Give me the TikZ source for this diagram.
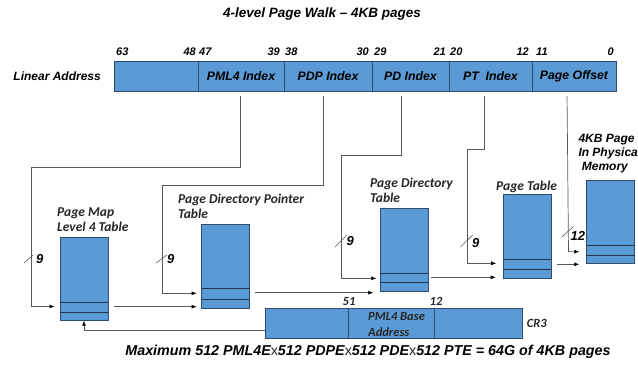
\documentclass[tikz,border=0pt]{standalone}
\usepackage{fontspec}
\setmainfont{Liberation Sans}
\newfontfamily\calfont{Carlito}
\usetikzlibrary{arrows.meta}
\definecolor{boxblue}{HTML}{5B9BD5}
\definecolor{boxedge}{HTML}{2F4B6E}
\definecolor{entryline}{HTML}{1F3550}
\definecolor{wiregray}{HTML}{595959}
\definecolor{labeltext}{HTML}{262626}

\begin{document}
\begin{tikzpicture}[x=1pt,y=-1pt,
  field/.style={draw=boxedge, fill=boxblue, line width=0.8pt, minimum height=30pt,
    anchor=north west, inner sep=0pt, outer sep=0pt,
    font=\fontsize{12.3}{14}\selectfont\bfseries\itshape},
  tbl/.style={draw=boxedge, fill=boxblue, line width=0.8pt, anchor=north west,
    inner sep=0pt, outer sep=0pt},
  entry/.style={draw=entryline, line width=0.8pt},
  wire/.style={draw=wiregray, line width=0.7pt},
  ptr/.style={wire, -{Latex[length=5pt,width=4pt,color=black]}},
  slash/.style={draw=wiregray, line width=0.6pt},
  bitno/.style={inner sep=0pt, font=\fontsize{11}{13}\selectfont\bfseries\itshape},
  count/.style={inner sep=0pt, anchor=west, font=\fontsize{13}{15}\selectfont\bfseries\itshape},
  arial/.style={inner sep=0pt, font=\fontsize{12}{14}\selectfont\bfseries\itshape},
  tname/.style={inner sep=0pt, anchor=west, align=left, text=labeltext,
    font=\fontsize{13.5}{15}\selectfont\calfont\bfseries\itshape},
  crname/.style={inner sep=0pt, text=labeltext,
    font=\fontsize{12.5}{15.5}\selectfont\calfont\bfseries\itshape},
  bigtext/.style={inner sep=0pt, font=\fontsize{14}{16}\selectfont\bfseries\itshape}
]
\useasboundingbox (0,0) rectangle (638,365);

% title
\node[bigtext, font=\fontsize{13.5}{16}\selectfont\bfseries\itshape] (title) at (322,14) {4-level Page Walk -- 4KB pages};

% linear address and its fields
\node[arial, anchor=east] (la) at (101,76) {Linear Address};
\node[field, minimum width=84pt] (sign) at (114,61) {};
\node[field, minimum width=86pt] (pml4) at (198,61) {PML4 Index};
\node[field, minimum width=88pt] (pdp) at (284,61) {PDP Index};
\node[field, minimum width=77pt] (pd) at (372,61) {PD Index};
\node[field, minimum width=83pt] (pt) at (449,61) {PT\ \ Index};
\node[field, minimum width=84pt] (off) at (532,61) {Page Offset};

% bit positions
\node[bitno, anchor=west] (b63) at (116,52) {63};
\node[bitno, anchor=east] (b48) at (196,52) {48};
\node[bitno, anchor=west] (b47) at (199,52) {47};
\node[bitno, anchor=east] (b39) at (280,52) {39};
\node[bitno, anchor=west] (b38) at (285,52) {38};
\node[bitno, anchor=east] (b30) at (369,52) {30};
\node[bitno, anchor=west] (b29) at (374,52) {29};
\node[bitno, anchor=east] (b21) at (446,52) {21};
\node[bitno, anchor=west] (b20) at (450,52) {20};
\node[bitno, anchor=east] (b12) at (529,52) {12};
\node[bitno, anchor=west] (b11) at (536,52) {11};
\node[bitno, anchor=east] (b0) at (614,52) {0};

% tables
\node[tbl, minimum width=48pt, minimum height=83.4pt] (l4) at (60,237.3) {};
\node[tbl, minimum width=47.6pt, minimum height=84pt] (pdpt) at (201.7,224.3) {};
\node[tbl, minimum width=47.7pt, minimum height=83pt] (pdt) at (380.3,208.3) {};
\node[tbl, minimum width=47.3pt, minimum height=83.6pt] (ptt) at (503.7,194.7) {};
\node[tbl, minimum width=47.7pt, minimum height=83.4pt] (page) at (586.3,180.3) {};

% selected entries
\draw[entry] (l4.west |- 0,302.3) -- (l4.east |- 0,302.3);
\draw[entry] (l4.west |- 0,312) -- (l4.east |- 0,312);
\draw[entry] (pdpt.west |- 0,288.5) -- (pdpt.east |- 0,288.5);
\draw[entry] (pdpt.west |- 0,299.2) -- (pdpt.east |- 0,299.2);
\draw[entry] (pdt.west |- 0,273) -- (pdt.east |- 0,273);
\draw[entry] (pdt.west |- 0,282) -- (pdt.east |- 0,282);
\draw[entry] (ptt.west |- 0,259) -- (ptt.east |- 0,259);
\draw[entry] (ptt.west |- 0,269.3) -- (ptt.east |- 0,269.3);
\draw[entry] (page.west |- 0,245.3) -- (page.east |- 0,245.3);
\draw[entry] (page.west |- 0,255) -- (page.east |- 0,255);

% table names
\node[tname] (l4name) at (57,220) {Page Map\\Level 4 Table};
\node[tname] (pdptname) at (178,206.5) {Page Directory Pointer\\Table};
\node[tname] (pdtname) at (370,190.5) {Page Directory\\Table};
\node[tname] (pttname) at (496,186.7) {Page Table};
\node[arial, anchor=west] (pg1) at (578.3,139.3) {4KB Page};
\node[arial, anchor=west] (pg2) at (578.3,153.3) {In Physical};
\node[arial, anchor=west] (pg3) at (581.7,167.7) {Memory};

% CR3 register
\node[field, minimum width=83.7pt] (cr3a) at (265,308.3) {};
\node[field, minimum width=85.6pt] (cr3b) at (348.7,308.3) {};
\node[field, minimum width=88.4pt] (cr3c) at (434.3,308.3) {};
\node[crname, anchor=west, align=left] (cr3txt) at (368,324.5) {PML4 Base\\Address};
\node[crname] (c51) at (349,301.7) {51};
\node[crname] (c12) at (436,301.7) {12};
\node[crname, anchor=west] (cr3) at (526.7,323.3) {CR3};

% index fields select entries
\coordinate (l4in) at (60,306.5);
\coordinate (pdptin) at (201.7,293.3);
\coordinate (pdtin) at (380.3,278.3);
\coordinate (pttin) at (503.7,263.3);
\coordinate (pagein) at (586.3,251.7);
\draw[ptr, shorten <=5pt, shorten >=5.5pt] ([xshift=-1pt]pml4.south) |- (31,167.7) |- (l4in);
\draw[ptr, shorten <=5pt, shorten >=5pt] ([xshift=-5pt]pdp.south) |- (162,185.5) |- (pdptin);
\draw[ptr, shorten <=5pt, shorten >=4pt] ([xshift=-9.5pt]pd.south) |- (341,155) |- (pdtin);
\draw[ptr, shorten <=5pt, shorten >=7.5pt] ([xshift=-6.5pt]pt.south) |- (467,149.3) |- (pttin);
\draw[ptr, shorten <=5pt, shorten >=7pt] ([xshift=-7pt]off.south) -- (568.5,251.7) -- (pagein);

% entry points to next table
\coordinate (l4out) at (108,306.7);
\coordinate (pdptnext) at (201.7,306.7);
\coordinate (pdptout) at (249.3,292.7);
\coordinate (pdtnext) at (380.3,292.7);
\coordinate (pdtout) at (428,277.3);
\coordinate (pttnext) at (503.7,277.3);
\coordinate (pttout) at (551,264.3);
\coordinate (pagenext) at (586.3,264.3);
\draw[ptr, shorten <=6pt, shorten >=5pt] (l4out) -- (pdptnext);
\draw[ptr, shorten <=6pt, shorten >=7pt] (pdptout) -- (pdtnext);
\draw[ptr, shorten <=3pt, shorten >=8pt] (pdtout) -- (pttnext);
\draw[ptr, shorten <=5.7pt, shorten >=7pt] (pttout) -- (pagenext);

% CR3 points at the PML4 table
\coordinate (cr3link) at (265,330);
\draw[ptr] (cr3link) -| (l4.south);

% bit-count marks
\draw[slash] (24,263) -- (33,255);
\node[count] (n1) at (36,259.5) {9};
\draw[slash] (156,263) -- (167,255);
\node[count] (n2) at (167,259.5) {9};
\draw[slash] (335,247) -- (347,235);
\node[count] (n3) at (346.5,241.5) {9};
\draw[slash] (460.7,246.7) -- (472.7,235);
\node[count] (n4) at (472,243.5) {9};
\draw[slash] (561.7,237) -- (573.3,226.7);
\node[count] (n5) at (570.5,236) {12};

% capacity note
\node[bigtext, font=\fontsize{14.3}{16}\selectfont\bfseries\itshape] (note) at (368,352) {Maximum 512 PML4E{\mdseries\upshape\color{labeltext} x}512 PDPE{\mdseries\upshape\color{labeltext} x}512 PDE{\mdseries\upshape\color{labeltext} x}512 PTE = 64G of 4KB pages};
\end{tikzpicture}
\end{document}
